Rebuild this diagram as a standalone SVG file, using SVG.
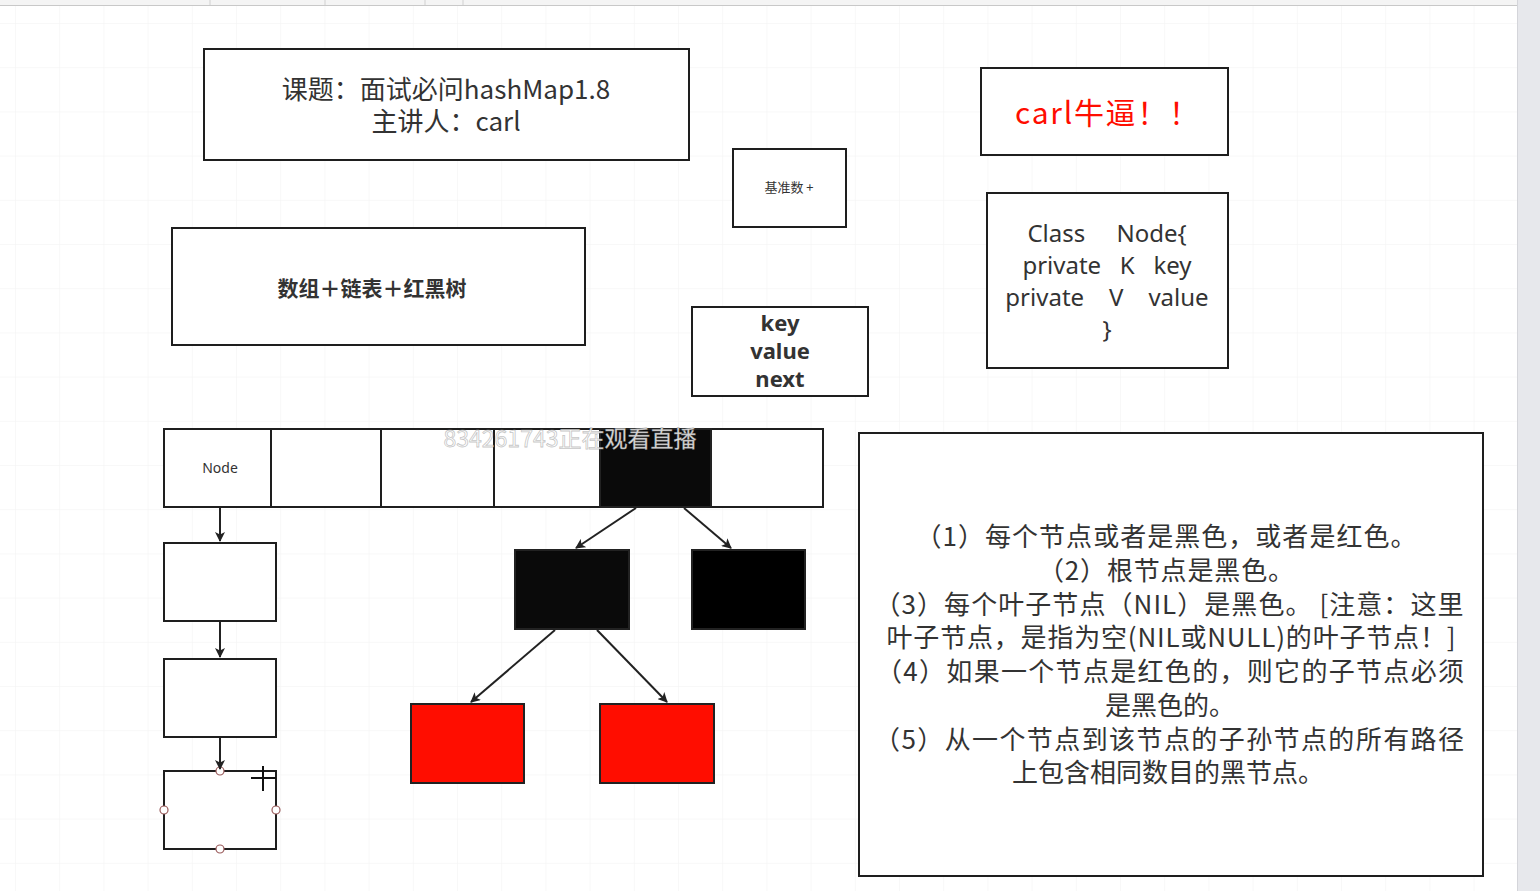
<svg xmlns="http://www.w3.org/2000/svg" width="1540" height="891" viewBox="0 0 1540 891">
<defs>
<pattern id="grid" x="15" y="23" width="44.2" height="44.2" patternUnits="userSpaceOnUse">
<path d="M0 0H44.2M0 0V44.2" fill="none" stroke="#f2f2f2" stroke-width="1"/>
</pattern>
<marker id="arr" viewBox="0 0 10 10" refX="9" refY="5" markerWidth="10" markerHeight="10" markerUnits="userSpaceOnUse" orient="auto">
<path d="M0 0L10 5L0 10L2.5 5Z" fill="#222"/>
</marker>
</defs>
<style>
.box{fill:#fff;stroke:#1e1e1e;stroke-width:2}
.blk{fill:#0a0a0a;stroke:#222;stroke-width:2}
.red{fill:#ff0d00;stroke:#222;stroke-width:2}
.t{font-family:"Noto Sans CJK SC","Noto Sans",sans-serif;fill:#333;text-anchor:middle}
.lat{font-family:"Noto Sans","Open Sans","Noto Sans CJK SC",sans-serif;fill:#333;text-anchor:middle}
.wm{font-family:"Noto Sans CJK SC","Noto Sans",sans-serif;fill:#fff;fill-opacity:0.9;stroke:#8a8a8a;stroke-opacity:0.5;stroke-width:0.8;text-anchor:middle}
.con{fill:none;stroke:#222;stroke-width:2;marker-end:url(#arr)}
.hdl{fill:#fff;stroke:#9a5a5a;stroke-width:1.2}
</style>
<rect width="1540" height="891" fill="#fff"/>
<rect x="0" y="5" width="1517" height="886" fill="url(#grid)"/>
<rect x="0" y="0" width="1540" height="5" fill="#f4f4f4"/>
<line x1="0" y1="5.5" x2="1540" y2="5.5" stroke="#c8c8c8" stroke-width="1"/>
<path d="M210 0V5M325 0V5M425 0V5M463 0V5" stroke="#d0d0d0" stroke-width="1"/>
<rect x="1517" y="0" width="23" height="891" fill="#e7e8ec"/>
<line x1="1517.5" y1="0" x2="1517.5" y2="891" stroke="#d4d5da" stroke-width="1"/>

<g id="title">
<rect class="box" x="204" y="49" width="485" height="111"/>
<text class="t" font-size="26" x="446" y="99">课题：面试必问hashMap1.8</text>
<text class="t" font-size="26" x="446" y="131">主讲人：carl</text>
</g>
<g id="structure">
<rect class="box" x="172" y="228" width="413" height="117"/>
<text class="t" font-size="21" font-weight="bold" x="372" y="296">数组＋链表＋红黑树</text>
</g>
<g id="base">
<rect class="box" x="733" y="149" width="113" height="78"/>
<text class="t" font-size="13" x="789" y="192">基准数 +</text>
</g>
<g id="kvn">
<rect class="box" x="692" y="307" width="176" height="89"/>
<text class="lat" font-size="22" font-weight="bold" x="780" y="331">key</text>
<text class="lat" font-size="22" font-weight="bold" x="780" y="359">value</text>
<text class="lat" font-size="22" font-weight="bold" x="780" y="387">next</text>
</g>
<g id="carl">
<rect class="box" x="981" y="68" width="247" height="87"/>
<text class="t" font-size="30" x="1107" y="124" textLength="184" lengthAdjust="spacing" style="fill:#ff0d00">carl牛逼！！</text>
</g>
<g id="classNode">
<rect class="box" x="987" y="193" width="241" height="175"/>
<text class="lat" font-size="24" x="1107" y="242" xml:space="preserve">Class     Node{</text>
<text class="lat" font-size="24" x="1107" y="274" xml:space="preserve">private   K   key</text>
<text class="lat" font-size="24" x="1107" y="306" xml:space="preserve">private    V    value</text>
<text class="lat" font-size="24" x="1107" y="338">}</text>
</g>

<g id="array">
<rect class="box" x="164" y="429" width="659" height="78"/>
<rect class="blk" x="600" y="429" width="111" height="78"/>
<path d="M271 429V507M381 429V507M494 429V507" stroke="#1e1e1e" stroke-width="2"/>
<text class="lat" font-size="14" x="220" y="473">Node</text>
</g>

<g id="list1"><rect class="box" x="164" y="543" width="112" height="78"/></g>
<g id="list2"><rect class="box" x="164" y="659" width="112" height="78"/></g>
<g id="list3">
<rect class="box" x="164" y="771" width="112" height="78"/>
<circle class="hdl" cx="220" cy="771" r="4"/>
<circle class="hdl" cx="164" cy="810" r="4"/>
<circle class="hdl" cx="276" cy="810" r="4"/>
<circle class="hdl" cx="220" cy="849" r="4"/>
<path d="M251 778H276M263 766V791" stroke="#111" stroke-width="2"/>
</g>

<g id="tree1"><rect class="blk" x="515" y="550" width="114" height="79"/></g>
<g id="tree2"><rect class="blk" x="692" y="550" width="113" height="79" style="fill:#000"/></g>
<g id="tree3"><rect class="red" x="411" y="704" width="113" height="79"/></g>
<g id="tree4"><rect class="red" x="600" y="704" width="114" height="79"/></g>

<g id="connectors">
<line class="con" x1="220" y1="508" x2="220" y2="541"/>
<line class="con" x1="220" y1="622" x2="220" y2="657"/>
<line class="con" x1="220" y1="738" x2="220" y2="769"/>
<line class="con" x1="636" y1="508" x2="576" y2="548"/>
<line class="con" x1="684" y1="508" x2="731" y2="548"/>
<line class="con" x1="555" y1="630" x2="471" y2="702"/>
<line class="con" x1="597" y1="630" x2="667" y2="702"/>
</g>

<g id="rules">
<rect class="box" x="859" y="433" width="624" height="443"/>
<text class="t" font-size="26" x="1166" y="546" textLength="501" lengthAdjust="spacing">（1）每个节点或者是黑色，或者是红色。</text>
<text class="t" font-size="26" x="1166" y="580" textLength="256" lengthAdjust="spacing">（2）根节点是黑色。</text>
<text class="t" font-size="26" x="1169" y="614" textLength="589" lengthAdjust="spacing">（3）每个叶子节点（NIL）是黑色。 [注意：这里</text>
<text class="t" font-size="26" x="1171" y="647" textLength="569" lengthAdjust="spacing">叶子节点，是指为空(NIL或NULL)的叶子节点！]</text>
<text class="t" font-size="26" x="1170" y="681" textLength="588" lengthAdjust="spacing">（4）如果一个节点是红色的，则它的子节点必须</text>
<text class="t" font-size="26" x="1170" y="715">是黑色的。</text>
<text class="t" font-size="26" x="1169" y="749" textLength="590" lengthAdjust="spacing">（5）从一个节点到该节点的子孙节点的所有路径</text>
<text class="t" font-size="26" x="1168" y="782">上包含相同数目的黑节点。</text>
</g>

<text class="wm" x="570" y="447" font-size="23">834261743正在观看直播</text>
</svg>
